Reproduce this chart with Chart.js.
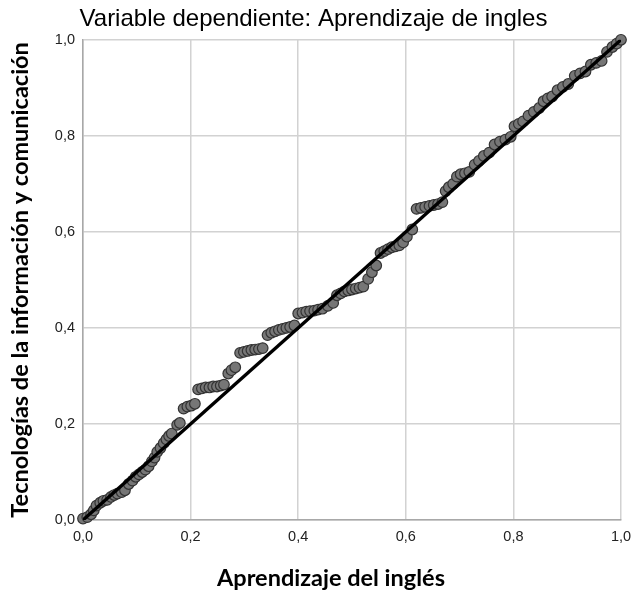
<!DOCTYPE html>
<html>
<head>
<meta charset="utf-8">
<script src="https://cdn.jsdelivr.net/npm/chart.js@4"></script>
<style>
  html, body { margin: 0; padding: 0; background: #fff; }
  #wrap { width: 634px; height: 593px; }
</style>
</head>
<body>
<div id="wrap"><canvas id="graficoPP"></canvas></div>
<script>
// Gráfico P-P normal de regresión: probabilidad acumulada esperada vs observada
const esperada = [
  0.000, 0.008, 0.015, 0.020, 0.025, 0.032, 0.038, 0.045, 0.052, 0.058,
  0.064, 0.072, 0.078, 0.085, 0.092, 0.098, 0.104, 0.110, 0.116, 0.122,
  0.128, 0.133, 0.138, 0.144, 0.150, 0.155, 0.160, 0.165, 0.175, 0.180,
  0.187, 0.194, 0.201, 0.208, 0.214, 0.221, 0.228, 0.235, 0.242, 0.249,
  0.256, 0.262, 0.270, 0.276, 0.283, 0.292, 0.299, 0.306, 0.313, 0.320,
  0.327, 0.334, 0.343, 0.350, 0.357, 0.364, 0.371, 0.378, 0.385, 0.393,
  0.400, 0.408, 0.415, 0.422, 0.430, 0.437, 0.445, 0.455, 0.465, 0.472,
  0.479, 0.486, 0.493, 0.500, 0.507, 0.514, 0.521, 0.530, 0.537, 0.545,
  0.553, 0.560, 0.567, 0.574, 0.581, 0.588, 0.595, 0.602, 0.612, 0.620,
  0.628, 0.636, 0.644, 0.652, 0.660, 0.668, 0.674, 0.680, 0.688, 0.695,
  0.702, 0.710, 0.718, 0.728, 0.736, 0.745, 0.755, 0.765, 0.775, 0.785,
  0.795, 0.802, 0.810, 0.818, 0.828, 0.838, 0.848, 0.856, 0.864, 0.872,
  0.882, 0.892, 0.902, 0.914, 0.924, 0.934, 0.944, 0.954, 0.964, 0.974,
  0.984, 0.992, 1.000
];
const observada = [
  0.003, 0.006, 0.012, 0.020, 0.030, 0.036, 0.040, 0.042, 0.048, 0.052,
  0.055, 0.058, 0.062, 0.075, 0.082, 0.090, 0.095, 0.100, 0.105, 0.112,
  0.122, 0.130, 0.142, 0.150, 0.160, 0.168, 0.175, 0.180, 0.198, 0.202,
  0.232, 0.236, 0.238, 0.242, 0.272, 0.274, 0.276, 0.276, 0.278, 0.278,
  0.280, 0.282, 0.305, 0.312, 0.318, 0.348, 0.350, 0.352, 0.354, 0.355,
  0.356, 0.358, 0.385, 0.390, 0.393, 0.396, 0.398, 0.400, 0.402, 0.405,
  0.430, 0.432, 0.434, 0.435, 0.436, 0.438, 0.440, 0.446, 0.452, 0.468,
  0.472, 0.476, 0.478, 0.480, 0.482, 0.484, 0.486, 0.502, 0.516, 0.530,
  0.556, 0.560, 0.564, 0.568, 0.570, 0.572, 0.578, 0.590, 0.605, 0.648,
  0.650, 0.652, 0.654, 0.656, 0.658, 0.662, 0.685, 0.693, 0.700, 0.715,
  0.720, 0.722, 0.725, 0.740, 0.748, 0.758, 0.765, 0.782, 0.788, 0.792,
  0.798, 0.820, 0.825, 0.830, 0.842, 0.850, 0.858, 0.872, 0.878, 0.882,
  0.895, 0.902, 0.908, 0.925, 0.930, 0.934, 0.948, 0.952, 0.956, 0.975,
  0.985, 0.992, 1.000
];
const diagonal = [0, 1];
const etiquetasEje = ["0,0", "0,2", "0,4", "0,6", "0,8", "1,0"];
const tituloX = "Aprendizaje del inglés";

const puntos = esperada.map((x, i) => ({ x: x, y: observada[i] }));
const linea = diagonal.map(v => ({ x: v, y: v }));

const fuenteEjes = { family: "Lato", size: 23.5, weight: "bold" };
const fuenteTicks = { family: "Liberation Sans", size: 14.5 };

// el título del eje X va algo desplazado a la izquierda en el original
const tituloEjeX = {
  id: "tituloEjeX",
  afterDraw(chart) {
    const c = chart.ctx;
    c.save();
    c.font = "bold 23.5px Lato";
    c.fillStyle = "#000";
    c.textAlign = "center";
    c.textBaseline = "middle";
    c.fillText(tituloX, 331, 578);
    c.restore();
  }
};

const ctx = document.getElementById("graficoPP").getContext("2d");

new Chart(ctx, {
  type: "scatter",
  data: {
    datasets: [
      {
        label: "Diagonal",
        data: linea,
        showLine: true,
        borderColor: "#000",
        borderWidth: 3.4,
        pointRadius: 0,
        order: 0
      },
      {
        label: "Observada",
        data: puntos,
        backgroundColor: "#767676",
        borderColor: "#333",
        borderWidth: 1.2,
        pointRadius: 5.3,
        clip: false,
        order: 1
      }
    ]
  },
  options: {
    responsive: true,
    maintainAspectRatio: false,
    animation: false,
    layout: { padding: { left: 6, right: 13, top: 5, bottom: 4 } },
    plugins: {
      legend: { display: false },
      tooltip: { enabled: false },
      title: {
        display: true,
        text: "Variable dependiente: Aprendizaje de ingles",
        color: "#000",
        font: { family: "Liberation Sans", size: 24, weight: "normal" },
        padding: { top: 0, bottom: 6 }
      }
    },
    scales: {
      x: {
        type: "linear",
        min: 0,
        max: 1,
        ticks: {
          stepSize: 0.2,
          color: "#222",
          font: fuenteTicks,
          padding: 8,
          callback: (v, i) => etiquetasEje[i]
        },
        grid: { color: "#d2d2d2", lineWidth: 1.5, drawTicks: false },
        border: { color: "#a8a8a8", width: 1.5 },
        afterFit: s => { s.height = 69; s.paddingLeft = 0; s.paddingRight = 0; }
      },
      y: {
        type: "linear",
        min: 0,
        max: 1,
        ticks: {
          stepSize: 0.2,
          color: "#222",
          font: fuenteTicks,
          padding: 8,
          callback: (v, i) => etiquetasEje[i]
        },
        grid: { color: "#d2d2d2", lineWidth: 1.5, drawTicks: false },
        border: { color: "#a8a8a8", width: 1.5 },
        title: {
          display: true,
          text: "Tecnologías de la información y comunicación",
          color: "#000",
          font: fuenteEjes,
          padding: { top: 0, bottom: 0 }
        },
        afterFit: s => { s.width = 77; s.paddingTop = 0; s.paddingBottom = 0; }
      }
    }
  },
  plugins: [tituloEjeX]
});
</script>
</body>
</html>
